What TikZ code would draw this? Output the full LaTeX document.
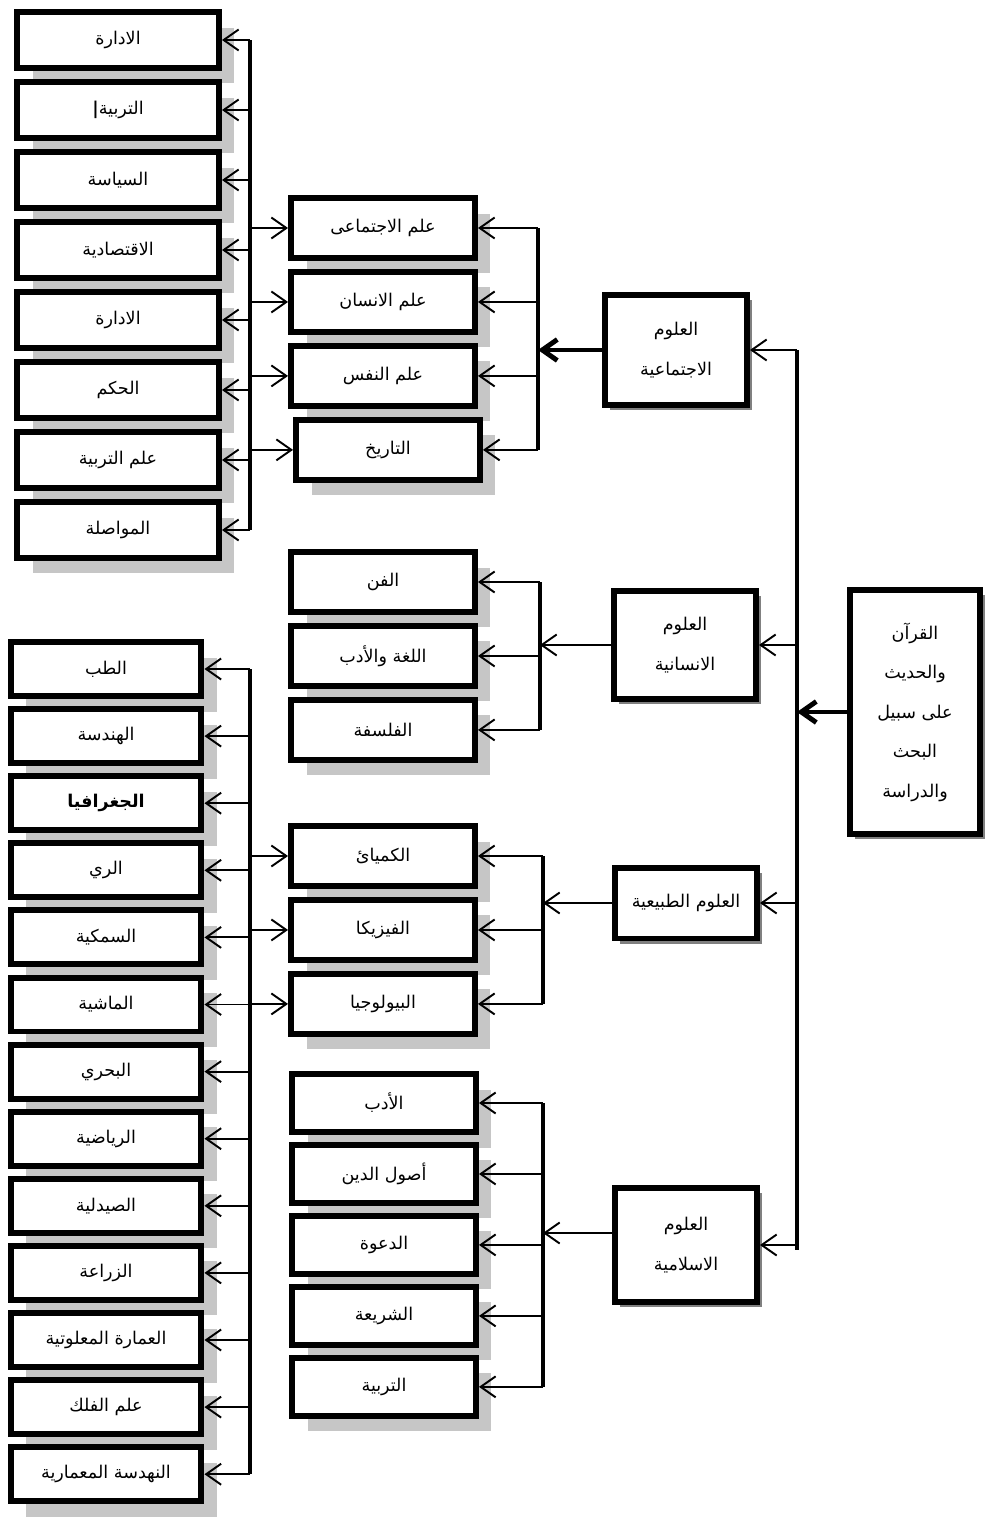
\documentclass[tikz,border=0pt]{standalone}
\usepackage{fontspec}
\usepackage{tikz}
\usetikzlibrary{arrows.meta, positioning, shadows}
\TeXXeTstate=1
\newfontfamily\arabicfont[Script=Arabic]{DejaVu Sans}
\newcommand{\ar}[1]{{\arabicfont\beginR #1\endR}}

\begin{document}
\begin{tikzpicture}[
    x=0.02cm, y=-0.02cm,
    node distance=0.16cm,
    leaf/.style={rectangle, draw, line width=3.4pt, fill=white, minimum width=3.68cm, minimum height=1.2cm, inner sep=0pt, align=center, font=\fontsize{10}{12}\selectfont, drop shadow={shadow xshift=0.31cm, shadow yshift=-0.31cm, fill=gray!45, opacity=1}},
    branch/.style={rectangle, draw, line width=3.4pt, fill=white, minimum width=2.84cm, inner sep=0pt, align=center, font=\fontsize{10}{22.5}\selectfont, drop shadow={shadow xshift=0.1cm, shadow yshift=-0.1cm, fill=gray, opacity=1}},
    arrow/.style={-{Straight Barb[length=0.3cm, width=0.42cm]}, line width=1.1pt},
    bigarrow/.style={-{Straight Barb[length=0.3cm, width=0.42cm]}, line width=2.8pt},
    bus/.style={line width=2.3pt},
    mainbus/.style={line width=2.8pt}
]
    \useasboundingbox (0,0) rectangle (985,1521);

    % Source
    \node[branch, minimum width=2.6cm, minimum height=4.88cm] (quran) at (915,712)
        {\ar{القرآن}\\\ar{والحديث}\\\ar{على سبيل}\\\ar{البحث}\\\ar{والدراسة}};

    % Main branches
    \node[branch, minimum height=2.2cm] (s1) at (676,350) {\ar{العلوم}\\\ar{الاجتماعية}};
    \node[branch, minimum height=2.16cm] (s2) at (685,645) {\ar{العلوم}\\\ar{الانسانية}};
    \node[branch, minimum height=1.42cm] (s3) at (686,903) {\ar{العلوم الطبيعية}};
    \node[branch, minimum height=2.28cm] (s4) at (686,1245) {\ar{العلوم}\\\ar{الاسلامية}};

    % Social sciences
    \node[leaf] (soc) at (383,228) {\ar{علم الاجتماعى}};
    \node[leaf, below=of soc] (anth) {\ar{علم الانسان}};
    \node[leaf, below=of anth] (psy) {\ar{علم النفس}};
    \node[leaf, below=of psy, xshift=0.1cm] (hist) {\ar{التاريخ}};

    % Humanities
    \node[leaf] (art) at (383,582) {\ar{الفن}};
    \node[leaf, below=of art] (lang) {\ar{اللغة والأدب}};
    \node[leaf, below=of lang] (phil) {\ar{الفلسفة}};

    % Natural sciences
    \node[leaf] (chem) at (383,856) {\ar{الكميائ}};
    \node[leaf, below=of chem] (phys) {\ar{الفيزيكا}};
    \node[leaf, below=of phys] (bio) {\ar{البيولوجيا}};

    % Islamic sciences
    \node[leaf, minimum height=1.16cm] (adab) at (384,1103) {\ar{الأدب}};
    \node[leaf, minimum height=1.16cm, below=0.14cm of adab] (usul) {\ar{أصول الدين}};
    \node[leaf, minimum height=1.16cm, below=0.14cm of usul] (dawa) {\ar{الدعوة}};
    \node[leaf, minimum height=1.16cm, below=0.14cm of dawa] (sharia) {\ar{الشريعة}};
    \node[leaf, minimum height=1.16cm, below=0.14cm of sharia] (tarb) {\ar{التربية}};

    % Fields of the social sciences
    \foreach \txt [count=\i] in {الادارة, التربية\textbf{|}, السياسة, الاقتصادية, الادارة, الحكم, علم التربية, المواصلة}
        \node[leaf, minimum width=4.04cm, minimum height=1.12cm] (top\i) at (118,{-30+70*\i}) {\ar{\txt}};

    % Fields of the natural sciences
    \foreach \txt [count=\i] in {الطب, الهندسة, \textbf{الجغرافيا}, الري, السمكية, الماشية, البحري, الرياضية, الصيدلية, الزراعة, العمارة المعلوتية, علم الفلك, النهدسة المعمارية}
        \node[leaf, minimum width=3.82cm, minimum height=1.08cm] (bot\i) at (106,{601.9+67.1*\i}) {\ar{\txt}};

    % Bus positions
    \coordinate (trunk) at (797,0);
    \coordinate (busA) at (538,0);
    \coordinate (busB) at (540,0);
    \coordinate (busC) at (543,0);
    \coordinate (busD) at (543,0);
    \coordinate (busL) at (250,0);

    % Trunk
    \draw[mainbus] (s1.east -| trunk) -- ([yshift=-0.1cm]s4.east -| trunk);
    \foreach \n in {s1,s2,s3,s4}
        \draw[arrow] (\n.east -| trunk) -- (\n.east);
    \draw[bigarrow] (quran.west) -- (quran.west -| trunk);

    % Social sciences
    \draw[bus] (soc.east -| busA) -- (hist.east -| busA);
    \foreach \n in {soc,anth,psy,hist}
        \draw[arrow] (\n.east -| busA) -- (\n.east);
    \draw[bigarrow] (s1.west) -- (s1.west -| busA);

    % Humanities
    \draw[bus] (art.east -| busB) -- (phil.east -| busB);
    \foreach \n in {art,lang,phil}
        \draw[arrow] (\n.east -| busB) -- (\n.east);
    \draw[arrow] (s2.west) -- (s2.west -| busB);

    % Natural sciences
    \draw[bus] (chem.east -| busC) -- (bio.east -| busC);
    \foreach \n in {chem,phys,bio}
        \draw[arrow] (\n.east -| busC) -- (\n.east);
    \draw[arrow] (s3.west) -- (s3.west -| busC);

    % Islamic sciences
    \draw[bus] (adab.east -| busD) -- (tarb.east -| busD);
    \foreach \n in {adab,usul,dawa,sharia,tarb}
        \draw[arrow] (\n.east -| busD) -- (\n.east);
    \draw[arrow] ([yshift=0.24cm]s4.west) -- ([yshift=0.24cm]s4.west -| busD);

    % Left columns
    \draw[bus] (top1.east -| busL) -- (top8.east -| busL);
    \foreach \i in {1,...,8}
        \draw[arrow] (top\i.east -| busL) -- (top\i.east);
    \foreach \n in {soc,anth,psy,hist}
        \draw[arrow] (\n.west -| busL) -- (\n.west);

    \draw[bus] (bot1.east -| busL) -- (bot13.east -| busL);
    \foreach \i in {1,...,13}
        \draw[arrow] (bot\i.east -| busL) -- (bot\i.east);
    \foreach \n in {chem,phys,bio}
        \draw[arrow] (\n.west -| busL) -- (\n.west);

\end{tikzpicture}
\end{document}
